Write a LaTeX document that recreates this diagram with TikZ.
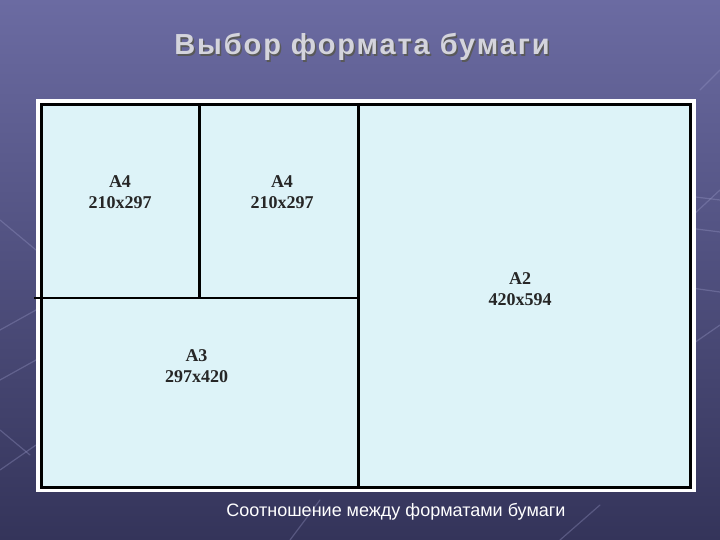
\documentclass[tikz,border=0pt]{standalone}
\usepackage{fontspec}
\setmainfont{Liberation Serif}
\setsansfont{Liberation Sans}
\usepackage{tikz}

\definecolor{slatetop}{HTML}{6B6BA2}
\definecolor{slatebot}{HTML}{34345A}
\definecolor{sheet}{HTML}{DDF3F8}
\definecolor{silver}{HTML}{D4D4DC}
\definecolor{streak}{HTML}{9A9AC8}

\begin{document}
\begin{tikzpicture}[x=1pt,y=1pt]
	\tikzstyle{every node}+=[inner sep=0pt]
	\tikzstyle{fmt}=[font=\bfseries\fontsize{18}{20.5}\selectfont, align=center, text=black!85]
	\tikzstyle{streakline}=[streak, line width=1.2pt, opacity=0.35, line cap=round]
	% background
	\shade [top color=slatetop, bottom color=slatebot] (0,0) rectangle (720,-540);
	\useasboundingbox (0,0) rectangle (720,-540);
	\draw [streakline] (655,-192) -- (720,-200);
	\draw [streakline] (665,-225) -- (720,-232);
	\draw [streakline] (650,-255) -- (720,-190);
	\draw [streakline] (670,-285) -- (720,-292);
	\draw [streakline] (655,-370) -- (720,-325);
	\draw [streakline] (700,-90) -- (720,-70);
	\draw [streakline] (0,-330) -- (36,-310);
	\draw [streakline] (0,-380) -- (36,-360);
	\draw [streakline] (0,-470) -- (36,-445);
	\draw [streakline] (0,-430) -- (30,-455);
	\draw [streakline] (0,-220) -- (36,-250);
	\draw [streakline] (290,-540) -- (320,-500);
	\draw [streakline] (560,-540) -- (600,-505);
	% title
	\node (titleshadow) at (363.5,-48.5) {\sffamily\bfseries\fontsize{29}{31}\selectfont\addfontfeature{LetterSpace=6.5}\color{black!65}Выбор формата бумаги};
	\node (title) at (362,-47) {\sffamily\bfseries\fontsize{29}{31}\selectfont\addfontfeature{LetterSpace=6.5}\color{silver}Выбор формата бумаги};
	% sheet
	\fill [white] (36,-99) rectangle (696,-492);
	\fill [sheet] (41.5,-104.5) rectangle (690.5,-487);
	\draw [black, line width=3pt] (41.5,-104.5) rectangle (690.5,-487);
	\draw [black, line width=3pt] (358.5,-104.5) -- (358.5,-487);
	\draw [black, line width=2pt] (34,-298) -- (358.5,-298);
	\draw [black, line width=3pt] (199.5,-104.5) -- (199.5,-298);
	% labels
	\node [fmt] (a4left) at (120,-192) {A4\\210x297};
	\node [fmt] (a4right) at (282,-192) {A4\\210x297};
	\node [fmt] (a2) at (520,-289) {A2\\420x594};
	\node [fmt] (a3) at (196.5,-366) {A3\\297x420};
	% caption
	\node (caption) at (396,-512) {\sffamily\fontsize{18}{20}\selectfont\color{white}Соотношение между форматами бумаги};
\end{tikzpicture}
\end{document}
